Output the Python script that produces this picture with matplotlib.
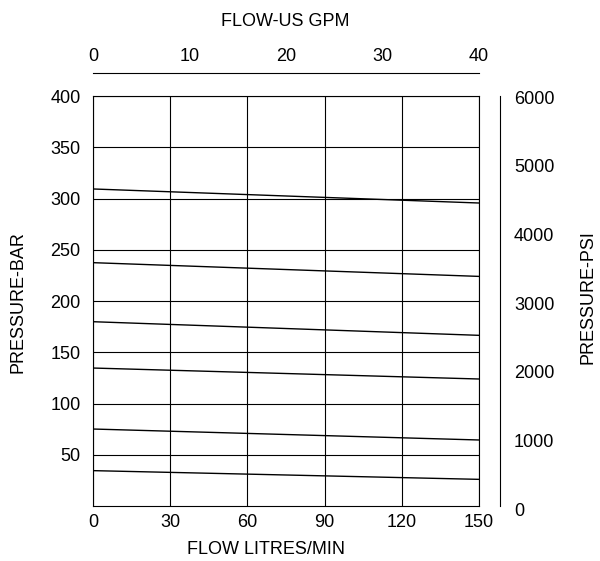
import matplotlib
matplotlib.use('Agg')
import matplotlib.pyplot as plt
from matplotlib import rcParams

rcParams['font.family'] = 'sans-serif'
rcParams['font.sans-serif'] = ['Liberation Sans']
rcParams['font.size'] = 13

# flow end points (litres/min) and pressure (bar) at each end, one per curve
flow_lpm = [0, 150]
curves_bar = [
    [309.3, 295.6],
    [237.4, 224.0],
    [179.8, 166.5],
    [134.6, 123.9],
    [75.1, 64.4],
    [34.5, 26.0],
]

x_ticks = [0, 30, 60, 90, 120, 150]
y_ticks = [50, 100, 150, 200, 250, 300, 350, 400]
gpm_ticks = [0, 10, 20, 30, 40]
psi_ticks = [0, 1000, 2000, 3000, 4000, 5000, 6000]

PX = 72. / 100.  # points per pixel

fig = plt.figure(figsize=(6.0, 5.61), dpi=100)
ax = fig.add_axes([93 / 600., 1 - 506 / 561., (479 - 93) / 600., (506 - 96) / 561.])

for c in curves_bar:
    ax.plot(flow_lpm, c, color='k', linewidth=1.0)

ax.set_xlim(0, 150)
ax.set_ylim(0, 400)
ax.set_xticks(x_ticks)
ax.set_yticks(y_ticks)
ax.grid(True, color='k', linewidth=0.8)
ax.tick_params(axis='x', length=0, pad=6)
ax.tick_params(axis='y', length=0, pad=9)
for s in ax.spines.values():
    s.set_linewidth(0.8)

# top axis in US GPM
ax_top = ax.twiny()
ax_top.set_xlim(0, 40)
ax_top.set_xticks(gpm_ticks)
ax_top.spines['top'].set_position(('outward', 23 * PX))
for side in ['bottom', 'left', 'right']:
    ax_top.spines[side].set_visible(False)
ax_top.spines['top'].set_linewidth(0.8)
ax_top.tick_params(axis='x', length=0, pad=6)

# right axis in PSI (own axes, labels sit a little lower than the bar scale)
ax_r = fig.add_axes([93 / 600., 1 - 509 / 561., (479 - 93) / 600., (509 - 97) / 561.])
ax_r.patch.set_visible(False)
ax_r.set_xticks([])
ax_r.set_ylim(0, 6000)
ax_r.set_yticks(psi_ticks)
ax_r.yaxis.tick_right()
for side in ['bottom', 'left', 'top']:
    ax_r.spines[side].set_visible(False)
ax_r.spines['right'].set_position(('outward', 21 * PX))
ax_r.spines['right'].set_linewidth(0.8)
ax_r.spines['right'].set_bounds(44, 6015)
ax_r.tick_params(axis='y', length=0, pad=10)

fig.text(266 / 600., 1 - 550 / 561., 'FLOW LITRES/MIN', ha='center', va='center')
fig.text(285 / 600., 1 - 22 / 561., 'FLOW-US GPM', ha='center', va='center')
fig.text(18 / 600., 1 - 302 / 561., 'PRESSURE-BAR', ha='center', va='center',
         rotation='vertical')
fig.text(588 / 600., 1 - 297 / 561., 'PRESSURE-PSI', ha='center', va='center',
         rotation='vertical')

plt.savefig('out.png', dpi=100)
